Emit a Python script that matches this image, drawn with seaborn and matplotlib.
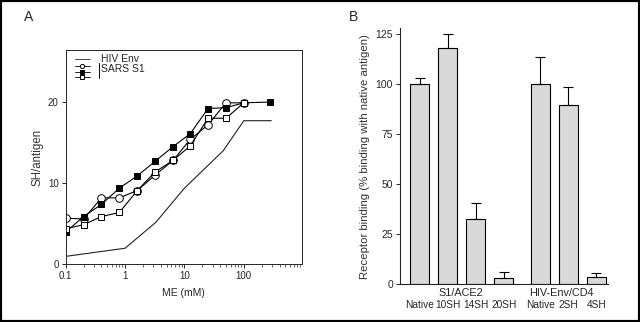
import numpy as np
import pandas as pd
from matplotlib import pyplot as plt
from matplotlib.patches import Rectangle
import seaborn as sns

# panel A: SH groups per antigen vs ME concentration
me_sars = [0.1, 0.2, 0.4, 0.8, 1.6, 3.2, 6.4, 12.5, 25, 50, 100]
sh_open_circle = [5.7, 5.6, 8.2, 8.2, 9.1, 11.0, 12.8, 15.4, 17.2, 19.9, 19.9]
sh_open_square = [4.4, 4.9, 5.9, 6.4, 9.1, 11.4, 12.8, 14.6, 18.0, 18.0, 19.9]
me_filled = [0.1, 0.2, 0.4, 0.8, 1.6, 3.2, 6.4, 12.5, 25, 50, 100, 280]
sh_filled = [4.0, 5.9, 7.4, 9.4, 10.9, 12.7, 14.5, 16.1, 19.2, 19.3, 19.9, 20.0]
me_hiv = [0.1, 1, 3.3, 10, 45, 100, 290]
sh_hiv = [1.0, 2.0, 5.2, 9.4, 14.0, 17.7, 17.7]

# panel B: receptor binding
bar_labels = ["Native", "10SH", "14SH", "20SH", "Native", "2SH", "4SH"]
bar_pos = [0, 1, 2, 3, 4.3, 5.3, 6.3]
binding = [100, 118.2, 32.9, 3.0, 100.3, 89.8, 3.5]
binding_err = [3.2, 6.8, 7.8, 3.0, 13.6, 8.8, 2.3]
groups = ["S1/ACE2", "HIV-Env/CD4"]
group_x = [1.46, 5.07]

sns.set_style("ticks")
plt.rcParams["font.family"] = ["Liberation Sans", "DejaVu Sans"]

fig = plt.figure(figsize=(6.4, 3.22), dpi=100)
ax_a = fig.add_axes([0.1027, 0.1786, 0.3690, 0.6661])
ax_b = fig.add_axes([0.625, 0.117, 0.325, 0.795])

# ---- panel A
lw = 0.8
sns.lineplot(x=me_hiv, y=sh_hiv, ax=ax_a, color="#222222", lw=lw, label="HIV Env")
sns.lineplot(x=me_sars, y=sh_open_circle, ax=ax_a, color="black", lw=lw,
             marker="o", markersize=5.5, markerfacecolor="white",
             markeredgecolor="black", markeredgewidth=0.7, label="c")
sns.lineplot(x=me_filled, y=sh_filled, ax=ax_a, color="black", lw=lw,
             marker="s", markersize=5, markerfacecolor="black",
             markeredgecolor="black", markeredgewidth=0.7, label="f")
sns.lineplot(x=me_sars, y=sh_open_square, ax=ax_a, color="black", lw=lw,
             marker="s", markersize=5, markerfacecolor="white",
             markeredgecolor="black", markeredgewidth=0.7, label="s")
ax_a.set_xscale("log")
ax_a.set_xlim(0.1, 950)
ax_a.set_ylim(0, 26.4)
ax_a.set_yticks([0, 10, 20])
ax_a.set_xticks([0.1, 1, 10, 100])
ax_a.set_xticklabels(["0.1", "1", "10", "100"])
ax_a.tick_params(labelsize=7, length=3, width=0.7, pad=2)
ax_a.tick_params(which="minor", length=2, width=0.5)
ax_a.set_xlabel("ME (mM)", fontsize=7.5, labelpad=5)
ax_a.set_ylabel("SH/antigen", fontsize=8.3, labelpad=3, color="#333333")
for s in ax_a.spines.values():
    s.set_linewidth(0.7)

leg = ax_a.legend(loc="upper left", bbox_to_anchor=(0.02, 1.004), frameon=False,
                  prop={"size": 4.5}, labelspacing=0.05, handlelength=2.4,
                  handletextpad=1.8, borderpad=0.2)
for h in leg.legend_handles:
    h.set_markersize(3)
    h.set_linewidth(0.6)
leg.get_texts()[0].set_fontsize(7.5)
for t in leg.get_texts()[1:]:
    t.set_visible(False)
ax_a.text(0.15, 0.912, "SARS S1", transform=ax_a.transAxes, fontsize=7.5,
          va="center", ha="left")
ax_a.plot([0.141, 0.141], [0.87, 0.94], transform=ax_a.transAxes,
          color="black", lw=0.7)

# ---- panel B
df_b = pd.DataFrame({"pos": bar_pos, "binding": binding})
sns.barplot(data=df_b, x="pos", y="binding", native_scale=True, width=0.67,
            color="#d9d9d9", edgecolor="black", linewidth=0.8, ax=ax_b,
            errorbar=None, saturation=1)
ax_b.errorbar(bar_pos, binding, yerr=[np.zeros(len(binding_err)), binding_err],
              fmt="none", ecolor="black", elinewidth=0.8, capsize=3.5,
              capthick=0.8)
ax_b.set_xlim(-0.7, 6.72)
ax_b.set_ylim(0, 128)
ax_b.set_yticks([0, 25, 50, 75, 100, 125])
ax_b.set_xticks(bar_pos)
ax_b.set_xticklabels(bar_labels)
ax_b.tick_params(axis="x", length=0, labelsize=7.3, pad=11)
ax_b.tick_params(axis="y", length=3, width=0.7, labelsize=7.5, pad=2)
for gx, g in zip(group_x, groups):
    ax_b.text(gx, -0.035, g, transform=ax_b.get_xaxis_transform(),
              ha="center", va="center", fontsize=7.8)
ax_b.set_xlabel("")
ax_b.set_ylabel("Receptor binding (% binding with native antigen)",
                fontsize=8.2, labelpad=4, color="#333333")
sns.despine(ax=ax_b)
for s in ax_b.spines.values():
    s.set_linewidth(0.8)

fig.text(29 / 640, 1 - 17 / 322, "A", fontsize=10, ha="center", va="center")
fig.text(353 / 640, 1 - 17 / 322, "B", fontsize=10, ha="center", va="center")
fig.patches.append(Rectangle((0, 0), 1, 1, transform=fig.transFigure,
                             fill=False, edgecolor="black", linewidth=3))

fig.savefig("out.png", dpi=100)
